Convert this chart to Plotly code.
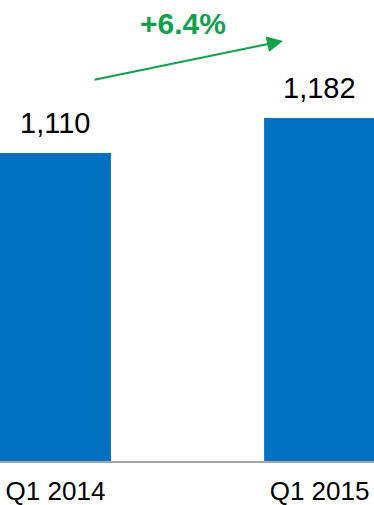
import plotly.graph_objects as go

categories = ["Q1 2014", "Q1 2015"]
values = [1110, 1182]
value_labels = ["1,110", "1,182"]
growth_label = "+6.4%"

bar_color = "#0070C0"
green = "#12A14B"

fig = go.Figure()
fig.add_trace(go.Bar(
    x=categories, y=values, marker=dict(color=bar_color, line=dict(width=0)),
    width=0.42, hoverinfo="skip",
))

for c, v, t in zip(categories, values, value_labels):
    fig.add_annotation(x=c, y=v, text=t, showarrow=False, yanchor="bottom",
                       yshift=12, font=dict(family="Liberation Sans, Arial", size=29, color="#000000"))

fig.add_annotation(xref="paper", yref="paper", x=283/374, y=(461-41)/461,
                   ax=-190, ay=39, axref="pixel", ayref="pixel",
                   showarrow=True, arrowhead=2, arrowsize=1.6, arrowwidth=2,
                   arrowcolor=green, text="")
fig.add_annotation(xref="paper", yref="paper", x=183/374, y=(461-24)/461,
                   text="<b>" + growth_label + "</b>", showarrow=False,
                   xanchor="center", yanchor="middle",
                   font=dict(family="Liberation Sans, Arial", size=30, color=green))

fig.update_layout(
    width=374, height=505, margin=dict(l=0, r=0, t=0, b=44),
    paper_bgcolor="white", plot_bgcolor="white", showlegend=False,
    xaxis=dict(type="category", range=[-0.21, 1.206], showgrid=False, zeroline=False,
               showline=True, linecolor="#A6A6A6", linewidth=2, ticks="",
               ticklabelstandoff=6, automargin=False,
               tickfont=dict(family="Liberation Sans, Arial", size=26, color="#000000")),
    yaxis=dict(range=[476.4, 1424.8], visible=False, showgrid=False, zeroline=False),
)

fig.write_html("out.html")
